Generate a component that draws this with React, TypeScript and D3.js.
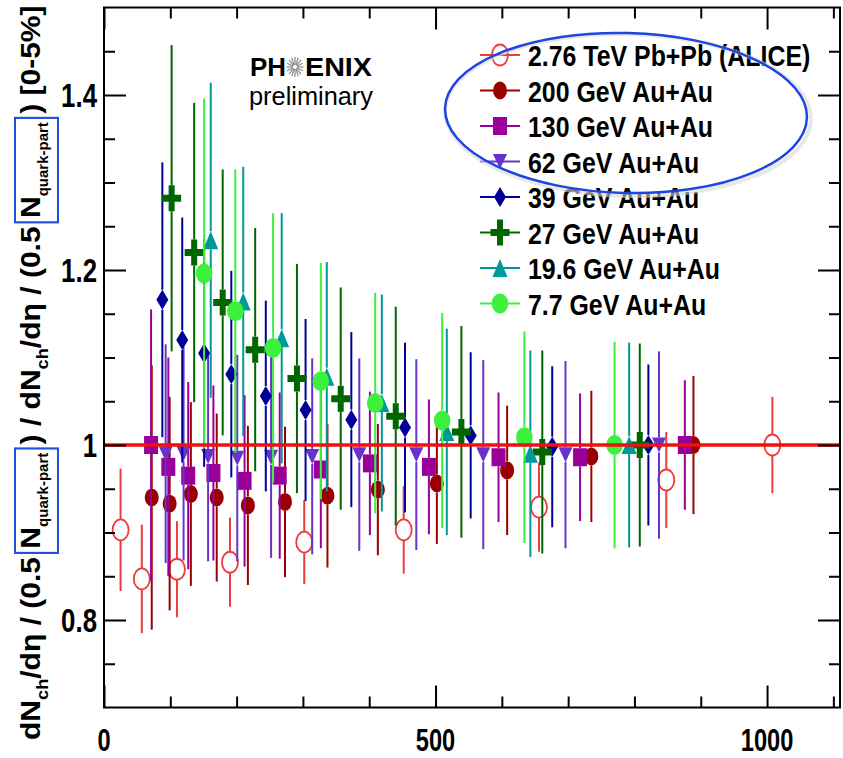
import React, { useEffect, useRef } from 'react';
import * as d3 from 'd3';

// values (x = N quark-part, y = ratio to 0-5%)
const aliceX = [25, 57, 110, 190, 302, 452, 656, 848, 1008];
const aliceY = [0.903, 0.847, 0.858, 0.866, 0.889, 0.903, 0.929, 0.96, 1.0];
const aliceErr = [0.07, 0.062, 0.055, 0.051, 0.048, 0.05, 0.051, 0.055, 0.055];

const au200X = [72, 99, 131, 170, 217, 273, 337, 413, 502, 608, 735, 889];
const au200Y = [0.94, 0.933, 0.944, 0.94, 0.931, 0.935, 0.942, 0.949, 0.956, 0.971, 0.987, 1.0];
const au200Err = [0.151, 0.122, 0.105, 0.096, 0.091, 0.086, 0.082, 0.075, 0.069, 0.074, 0.075, 0.079];

const au130X = [71, 97, 127, 165, 212, 265, 327, 401, 490, 595, 718, 876];
const au130Y = [1.0, 0.975, 0.965, 0.968, 0.959, 0.965, 0.972, 0.979, 0.975, 0.986, 0.986, 1.0];
const au130Err = [0.155, 0.125, 0.107, 0.1, 0.098, 0.095, 0.09, 0.082, 0.077, 0.074, 0.073, 0.074];

const au62X = [93, 120, 157, 201, 252, 314, 385, 471, 572, 696, 837];
const au62Y = [0.99, 0.99, 0.987, 0.985, 0.986, 0.987, 0.989, 0.989, 0.989, 0.989, 1.0];
const au62Err = [0.125, 0.122, 0.12, 0.118, 0.115, 0.112, 0.11, 0.109, 0.108, 0.107, 0.107];

const au39X = [88, 118, 151, 192, 244, 304, 373, 454, 553, 676, 821];
const au39Y = [1.166, 1.12, 1.105, 1.081, 1.056, 1.04, 1.029, 1.02, 1.011, 0.998, 1.0];
const au39Err = [0.157, 0.14, 0.13, 0.118, 0.109, 0.104, 0.1, 0.097, 0.095, 0.092, 0.092];

const au27X = [102, 136, 179, 228, 291, 357, 440, 539, 661, 808];
const au27Y = [1.282, 1.22, 1.163, 1.109, 1.076, 1.053, 1.033, 1.015, 0.992, 1.0];
const au27Err = [0.175, 0.171, 0.152, 0.139, 0.131, 0.127, 0.125, 0.121, 0.116, 0.116];

const au19X = [161, 210, 268, 336, 419, 517, 643, 792];
const au19Y = [1.234, 1.164, 1.122, 1.078, 1.048, 1.015, 0.99, 1.0];
const au19Err = [0.18, 0.154, 0.143, 0.131, 0.124, 0.118, 0.118, 0.117];

const au7X = [151, 198, 255, 327, 409, 510, 634, 770];
const au7Y = [1.196, 1.153, 1.111, 1.073, 1.048, 1.028, 1.009, 1.0];
const au7Err = [0.2, 0.162, 0.154, 0.135, 0.126, 0.123, 0.121, 0.118];

const labels = [
  '2.76 TeV Pb+Pb (ALICE)',
  '200 GeV Au+Au',
  '130 GeV Au+Au',
  '62 GeV Au+Au',
  '39 GeV Au+Au',
  '27 GeV Au+Au',
  '19.6 GeV Au+Au',
  '7.7 GeV Au+Au',
];
const colors = ['#ee3b3b', '#990000', '#990099', '#6633cc', '#000099', '#006600', '#009999', '#3ef03e'];
const markers = ['openCircle', 'filledCircle', 'square', 'invTriangle', 'diamond', 'cross', 'triangle', 'bigCircle'];

const yMajor = [0.8, 1.0, 1.2, 1.4];
const yMinor = [0.75, 0.85, 0.9, 0.95, 1.05, 1.1, 1.15, 1.25, 1.3, 1.35, 1.45];
const yTickLabels = ['0.8', '1', '1.2', '1.4'];
const xMajor = [0, 500, 1000];
const xMinor = [100, 200, 300, 400, 600, 700, 800, 900, 1100];
const xTickLabels = ['0', '500', '1000'];

const yTitleParts = [
  { t: 'dN' },
  { t: 'ch', sub: 17 },
  { t: '/dη / (0.5 ' },
  { t: 'N', box: 'start' },
  { t: 'quark-part', sub: 14, box: 'end' },
  { t: ' ) / dN' },
  { t: 'ch', sub: 17 },
  { t: '/dη / (0.5 ' },
  { t: 'N', box: 'start' },
  { t: 'quark-part', sub: 14, box: 'end' },
  { t: ' ) [0-5%]' },
];

// half height of each marker, error bars stop at the marker edge
const markerHalf = {
  openCircle: 10.5,
  filledCircle: 9,
  square: 9,
  invTriangle: 7.5,
  diamond: 10,
  cross: 13,
  triangle: 9,
  bigCircle: 10,
};

const drawMarker = (g, type, cx, cy, color) => {
  const poly = (pts) =>
    g
      .append('path')
      .attr('d', d3.line()(pts.map(([px, py]) => [cx + px, cy + py])) + 'Z')
      .attr('fill', color);
  switch (type) {
    case 'openCircle':
      g.append('ellipse').attr('cx', cx).attr('cy', cy).attr('rx', 8).attr('ry', 10.5)
        .attr('fill', 'none').attr('stroke', color).attr('stroke-width', 1.8);
      break;
    case 'filledCircle':
      g.append('ellipse').attr('cx', cx).attr('cy', cy).attr('rx', 7).attr('ry', 9).attr('fill', color);
      break;
    case 'bigCircle':
      g.append('ellipse').attr('cx', cx).attr('cy', cy).attr('rx', 8.3).attr('ry', 10).attr('fill', color);
      break;
    case 'square':
      g.append('rect').attr('x', cx - 7).attr('y', cy - 9).attr('width', 14).attr('height', 18).attr('fill', color);
      break;
    case 'invTriangle':
      poly([[-7, -7.5], [7, -7.5], [0, 7.5]]);
      break;
    case 'triangle':
      poly([[0, -9], [7.5, 9], [-7.5, 9]]);
      break;
    case 'diamond':
      poly([[0, -10], [6, 0], [0, 10], [-6, 0]]);
      break;
    case 'cross':
      poly([
        [-3, -13], [3, -13], [3, -3.5], [9.5, -3.5], [9.5, 3.5], [3, 3.5],
        [3, 13], [-3, 13], [-3, 3.5], [-9.5, 3.5], [-9.5, -3.5], [-3, -3.5],
      ]);
      break;
    default:
      break;
  }
};

const App = () => {
  const svgRef = useRef(null);

  useEffect(() => {
    document.body.style.margin = '0';
    const font = "'Liberation Sans', Arial, Helvetica, sans-serif";

    const left = 104;
    const right = 840;
    const top = 7.5;
    const bottom = 707.5;

    const svg = d3.select(svgRef.current);
    svg.selectAll('*').remove();
    svg.style('font-family', font);

    const x = d3.scaleLinear().domain([0, 1110]).range([left, right]);
    const y = d3.scaleLinear().domain([0.7, 1.5]).range([bottom, top]);

    const series = [
      { x: aliceX, y: aliceY, err: aliceErr },
      { x: au200X, y: au200Y, err: au200Err },
      { x: au130X, y: au130Y, err: au130Err },
      { x: au62X, y: au62Y, err: au62Err },
      { x: au39X, y: au39Y, err: au39Err },
      { x: au27X, y: au27Y, err: au27Err },
      { x: au19X, y: au19Y, err: au19Err },
      { x: au7X, y: au7Y, err: au7Err },
    ].map((s, i) => ({ ...s, color: colors[i], marker: markers[i], label: labels[i] }));

    const plot = svg.append('g');

    series.forEach((s) => {
      const g = plot.append('g');
      const half = markerHalf[s.marker];
      s.x.forEach((xv, i) => {
        const cx = x(xv);
        const cy = y(s.y[i]);
        const yTop = y(s.y[i] + s.err[i]);
        const yBot = y(s.y[i] - s.err[i]);
        g.append('line').attr('x1', cx).attr('x2', cx).attr('y1', yTop).attr('y2', cy - half)
          .attr('stroke', s.color).attr('stroke-width', 2);
        g.append('line').attr('x1', cx).attr('x2', cx).attr('y1', cy + half).attr('y2', yBot)
          .attr('stroke', s.color).attr('stroke-width', 2);
      });
      s.x.forEach((xv, i) => drawMarker(g, s.marker, x(xv), y(s.y[i]), s.color));
    });

    // reference line at 1
    svg.append('line')
      .attr('x1', x(0)).attr('x2', x(1110))
      .attr('y1', y(1)).attr('y2', y(1))
      .attr('stroke', '#ee1111').attr('stroke-width', 3.5);

    // ticks
    const tickStyle = (g) => {
      g.select('.domain').remove();
      g.selectAll('line').attr('stroke', '#000').attr('stroke-width', 2);
    };
    const noLabel = () => '';
    svg.append('g').attr('transform', `translate(${left},0)`)
      .call(d3.axisRight(y).tickValues(yMajor).tickSize(22).tickSizeOuter(0).tickFormat(noLabel)).call(tickStyle);
    svg.append('g').attr('transform', `translate(${left},0)`)
      .call(d3.axisRight(y).tickValues(yMinor).tickSize(11).tickSizeOuter(0).tickFormat(noLabel)).call(tickStyle);
    svg.append('g').attr('transform', `translate(${right},0)`)
      .call(d3.axisLeft(y).tickValues(yMajor).tickSize(22).tickSizeOuter(0).tickFormat(noLabel)).call(tickStyle);
    svg.append('g').attr('transform', `translate(${right},0)`)
      .call(d3.axisLeft(y).tickValues(yMinor).tickSize(11).tickSizeOuter(0).tickFormat(noLabel)).call(tickStyle);
    svg.append('g').attr('transform', `translate(0,${bottom})`)
      .call(d3.axisTop(x).tickValues(xMajor).tickSize(22).tickSizeOuter(0).tickFormat(noLabel)).call(tickStyle);
    svg.append('g').attr('transform', `translate(0,${bottom})`)
      .call(d3.axisTop(x).tickValues(xMinor).tickSize(11).tickSizeOuter(0).tickFormat(noLabel)).call(tickStyle);
    svg.append('g').attr('transform', `translate(0,${top})`)
      .call(d3.axisBottom(x).tickValues(xMajor).tickSize(22).tickSizeOuter(0).tickFormat(noLabel)).call(tickStyle);
    svg.append('g').attr('transform', `translate(0,${top})`)
      .call(d3.axisBottom(x).tickValues(xMinor).tickSize(11).tickSizeOuter(0).tickFormat(noLabel)).call(tickStyle);

    // frame
    svg.append('rect')
      .attr('x', left).attr('y', top).attr('width', right - left).attr('height', bottom - top)
      .attr('fill', 'none').attr('stroke', '#000').attr('stroke-width', 2);

    // tick labels (condensed bold)
    yMajor.forEach((v, i) => {
      svg.append('text')
        .attr('transform', `translate(97,${y(v) + 12}) scale(0.76,1)`)
        .attr('text-anchor', 'end')
        .style('font-size', '34px').style('font-weight', 'bold')
        .text(yTickLabels[i]);
    });
    xMajor.forEach((v, i) => {
      svg.append('text')
        .attr('transform', `translate(${x(v)},751) scale(0.74,1)`)
        .attr('text-anchor', 'middle')
        .style('font-size', '32px').style('font-weight', 'bold')
        .text(xTickLabels[i]);
    });

    // y title, rotated, with the two boxed N_quark-part
    const titleG = svg.append('g').attr('transform', 'translate(40,740) rotate(-90)');
    const inner = titleG.append('g');
    const title = inner.append('text')
      .attr('x', 0).attr('y', 0)
      .style('font-size', '28px').style('font-weight', 'bold')
      .style('white-space', 'pre');
    let shift = 0;
    let idx = 0;
    const boxes = [];
    let boxStart = 0;
    yTitleParts.forEach((p) => {
      const target = p.sub ? 8 : 0;
      title.append('tspan')
        .attr('dy', target - shift)
        .style('font-size', p.sub ? `${p.sub}px` : '28px')
        .text(p.t);
      shift = target;
      if (p.box === 'start') boxStart = idx;
      idx += p.t.length;
      if (p.box === 'end') boxes.push([boxStart, idx - 1]);
    });
    const tn = title.node();
    const len = tn.getComputedTextLength();
    inner.attr('transform', `scale(${735 / len},1)`);
    boxes.forEach(([s, e]) => {
      const sx = tn.getStartPositionOfChar(s).x;
      const ex = tn.getEndPositionOfChar(e).x;
      inner.append('rect')
        .attr('x', sx - 4).attr('y', -25)
        .attr('width', ex - sx + 8).attr('height', 43)
        .attr('fill', 'none').attr('stroke', '#2050e0').attr('stroke-width', 2);
    });

    // legend
    const legend = svg.append('g');
    series.forEach((s, i) => {
      const cy = 55 + i * 35.5;
      legend.append('line').attr('x1', 480).attr('x2', 520).attr('y1', cy).attr('y2', cy)
        .attr('stroke', s.color).attr('stroke-width', 2);
      drawMarker(legend, s.marker, 500, cy, s.color);
      legend.append('text')
        .attr('transform', `translate(528,${cy + 11}) scale(0.83,1)`)
        .style('font-size', '30px').style('font-weight', 'bold')
        .text(s.label);
    });

    // highlight ellipse around the first legend rows
    svg.append('ellipse')
      .attr('cx', 628).attr('cy', 115).attr('rx', 183).attr('ry', 81)
      .attr('transform', 'rotate(1.5,628,115)')
      .attr('fill', 'none').attr('stroke', '#d8d8d8').attr('stroke-width', 4)
      .attr('opacity', 0.6);
    svg.append('ellipse')
      .attr('cx', 626).attr('cy', 113).attr('rx', 181).attr('ry', 80)
      .attr('transform', 'rotate(1.5,626,113)')
      .attr('fill', 'none').attr('stroke', '#1f45e0').attr('stroke-width', 2.5);

    // PHENIX preliminary mark
    const logo = svg.append('g');
    logo.append('text').attr('x', 250).attr('y', 76).attr('textLength', 36).attr('lengthAdjust', 'spacingAndGlyphs')
      .style('font-size', '25px').style('font-weight', 'bold').text('PH');
    logo.append('text').attr('x', 305).attr('y', 76).attr('textLength', 67).attr('lengthAdjust', 'spacingAndGlyphs')
      .style('font-size', '25px').style('font-weight', 'bold').text('ENIX');
    d3.range(16).forEach((k) => {
      const a = (k / 16) * Math.PI * 2;
      logo.append('line')
        .attr('x1', 295 + Math.cos(a) * 2).attr('y1', 67 + Math.sin(a) * 2)
        .attr('x2', 295 + Math.cos(a) * 8.5).attr('y2', 67 + Math.sin(a) * 10)
        .attr('stroke', '#888').attr('stroke-width', 1.2);
    });
    logo.append('text').attr('x', 249).attr('y', 105).attr('textLength', 124).attr('lengthAdjust', 'spacingAndGlyphs')
      .style('font-size', '26px').text('preliminary');
  }, []);

  return <svg ref={svgRef} width={843} height={758} style={{ display: 'block', background: '#fff' }}></svg>;
};

export default App;
